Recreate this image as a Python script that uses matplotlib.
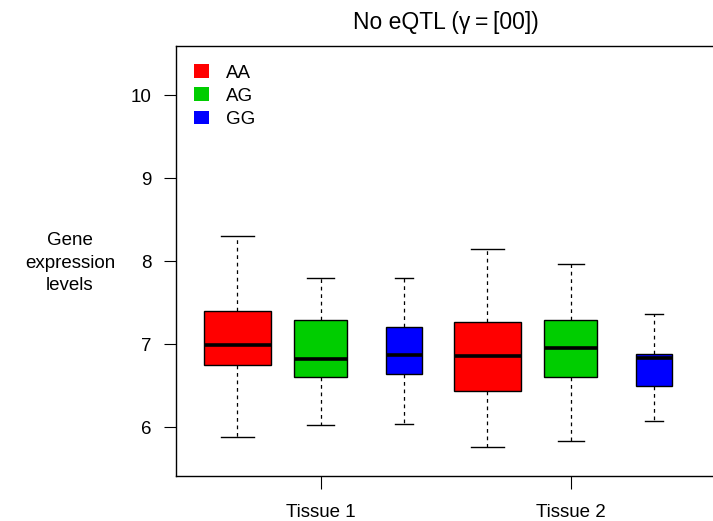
import matplotlib
matplotlib.use("Agg")
import matplotlib.pyplot as plt
from matplotlib.patches import Patch

plt.rcParams['font.family'] = ['Liberation Sans', 'DejaVu Sans']

# genotype groups, per tissue
genotypes = ["AA", "AG", "GG"]
tissues = ["Tissue 1", "Tissue 2"]
colors = ["#FF0000", "#00CD00", "#0000FF"]

# five-number summaries, order: AA, AG, GG (tissue 1), AA, AG, GG (tissue 2)
whislo = [5.88, 6.02, 6.04, 5.76, 5.835, 6.07]
q1 = [6.75, 6.60, 6.64, 6.43, 6.60, 6.49]
med = [6.99, 6.82, 6.87, 6.855, 6.95, 6.83]
q3 = [7.40, 7.285, 7.20, 7.265, 7.285, 6.88]
whishi = [8.30, 7.80, 7.80, 8.15, 7.97, 7.36]
# relative box widths (varwidth style)
box_widths = [0.80, 0.635, 0.43, 0.80, 0.635, 0.43]

W, H = 713, 521
fig = plt.figure(figsize=(W / 100, H / 100), dpi=100)
left, right, top, bottom = 175.5, 716.0, 45.7, 476.0
ax = fig.add_axes([left / W, 1 - bottom / H, (right - left) / W, (bottom - top) / H])

stats = []
for i in range(len(med)):
    stats.append(dict(whislo=whislo[i], q1=q1[i], med=med[i], q3=q3[i], whishi=whishi[i], fliers=[]))

positions = list(range(1, len(med) + 1))
bp = ax.bxp(stats, positions=positions, widths=box_widths, patch_artist=True,
            showfliers=False,
            boxprops=dict(edgecolor="black", linewidth=1.0),
            medianprops=dict(color="black", linewidth=2.6, solid_capstyle="butt"),
            whiskerprops=dict(color="black", linewidth=0.9, linestyle=(0, (3, 3))),
            capprops=dict(color="black", linewidth=1.0))
for i, box in enumerate(bp["boxes"]):
    box.set_facecolor(colors[i % 3])
for i, cap in enumerate(bp["caps"]):
    cap.set_xdata([positions[i // 2] - box_widths[i // 2] / 4, positions[i // 2] + box_widths[i // 2] / 4])

ax.set_xlim(0.26, 6.74)
ax.set_ylim(5.41, 10.594)
ax.set_yticks([6, 7, 8, 9, 10])
ax.set_xticks([2, 5])
ax.set_xticklabels(tissues)
ax.tick_params(axis="both", direction="out", length=9, width=0.8, labelsize=13.5, pad=11)
ax.tick_params(axis="y", pad=8)
for sp in ax.spines.values():
    sp.set_linewidth(1.0)
    sp.set_color("black")

ax.set_title("No eQTL (\u03b3\u2009=\u2009[00])", fontsize=16.5, pad=12)
fig.text(70 / W, 1 - 263 / H, "Gene\nexpression\nlevels", ha="center", va="center",
         fontsize=13.5, linespacing=1.4)

handles = [Patch(facecolor=c, edgecolor="none") for c in colors]
ax.legend(handles, genotypes, loc="upper left", frameon=False, fontsize=13.5,
          handlelength=0.8, handleheight=0.75, handletextpad=0.9, labelspacing=0.3,
          borderaxespad=0.6, bbox_to_anchor=(0.0, 1.0))

fig.savefig("out.png", dpi=100)
